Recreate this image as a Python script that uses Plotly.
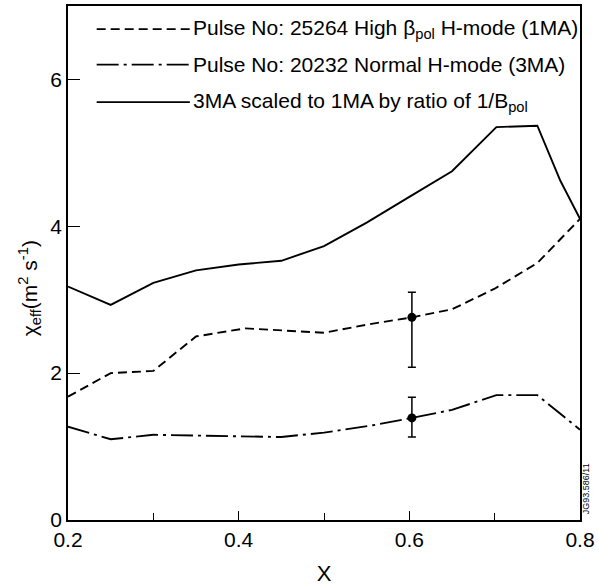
import plotly.graph_objects as go

# ---- data ----
x_highbeta = [0.2, 0.25, 0.3, 0.35, 0.408, 0.45, 0.5, 0.55, 0.603, 0.65, 0.7, 0.75, 0.8]
chi_highbeta = [1.68, 2.0, 2.03, 2.5, 2.61, 2.58, 2.55, 2.66, 2.76, 2.87, 3.15, 3.5, 4.1]

x_normal = [0.2, 0.25, 0.3, 0.35, 0.4, 0.45, 0.5, 0.557, 0.603, 0.65, 0.702, 0.75, 0.8]
chi_normal = [1.27, 1.1, 1.16, 1.15, 1.14, 1.13, 1.19, 1.29, 1.39, 1.5, 1.7, 1.7, 1.23]

x_scaled = [0.2, 0.25, 0.3, 0.35, 0.4, 0.45, 0.5, 0.55, 0.6, 0.65, 0.702, 0.75, 0.777, 0.8]
chi_scaled = [3.18, 2.93, 3.23, 3.4, 3.48, 3.53, 3.73, 4.05, 4.4, 4.75, 5.35, 5.37, 4.62, 4.1]

err_x = [0.603]
err_highbeta_val = [2.76]
err_highbeta_hi = [3.1]
err_highbeta_lo = [2.08]
err_normal_val = [1.39]
err_normal_hi = [1.67]
err_normal_lo = [1.13]

legend_labels = [
    "Pulse No: 25264 High \u03b2<sub>pol</sub> H-mode (1MA)",
    "Pulse No: 20232 Normal H-mode (3MA)",
    "3MA scaled to 1MA by ratio of 1/B<sub>pol</sub>",
]
legend_dashes = ["9px,5px", "22px,5px,3px,5px", "solid"]

x_ticks = [0.2, 0.4, 0.6, 0.8]
x_ticktext = ["0.2", "0.4", "0.6", "0.8"]
y_ticks = [0, 2, 4, 6]

FONT = "Liberation Sans, Arial, sans-serif"
LW = 1.9

fig = go.Figure()

fig.add_trace(go.Scatter(x=x_highbeta, y=chi_highbeta, mode="lines",
                         line=dict(color="black", width=LW, dash=legend_dashes[0]),
                         showlegend=False))
fig.add_trace(go.Scatter(x=x_normal, y=chi_normal, mode="lines",
                         line=dict(color="black", width=LW, dash=legend_dashes[1]),
                         showlegend=False))
fig.add_trace(go.Scatter(x=x_scaled, y=chi_scaled, mode="lines",
                         line=dict(color="black", width=LW, dash=legend_dashes[2]),
                         showlegend=False))

for vals, hi, lo in [(err_highbeta_val, err_highbeta_hi, err_highbeta_lo),
                     (err_normal_val, err_normal_hi, err_normal_lo)]:
    fig.add_trace(go.Scatter(
        x=err_x, y=vals, mode="markers",
        marker=dict(color="black", size=9, symbol="circle"),
        error_y=dict(type="data", symmetric=False,
                     array=[h - v for h, v in zip(hi, vals)],
                     arrayminus=[v - l for v, l in zip(vals, lo)],
                     color="black", thickness=1.5, width=4),
        showlegend=False))

# manual legend (line samples + labels) in paper coordinates
leg_y = [0.955, 0.886, 0.813]
for lab, dash, yy in zip(legend_labels, legend_dashes, leg_y):
    fig.add_shape(type="line", xref="paper", yref="paper",
                  x0=0.056, x1=0.238, y0=yy, y1=yy,
                  line=dict(color="black", width=LW, dash=dash))
    fig.add_annotation(xref="paper", yref="paper", x=0.24, y=yy, text=lab,
                       showarrow=False, xanchor="left", yanchor="middle",
                       font=dict(family=FONT, size=21, color="black"))

# y axis title
fig.add_annotation(xref="paper", yref="paper", x=-0.075, y=0.45,
                   text="\u03c7<sub>eff</sub>(m<sup>2</sup> s<sup>-1</sup>)",
                   textangle=-90, showarrow=False,
                   xanchor="center", yanchor="middle",
                   font=dict(family=FONT, size=21, color="black"))

# figure code
fig.add_annotation(xref="paper", yref="paper", x=1.0, y=0.06,
                   text="JG93.586/11", textangle=-90, showarrow=False,
                   xanchor="left", yanchor="middle", xshift=-1,
                   font=dict(family=FONT, size=9, color="black"))

fig.update_layout(
    width=599, height=586,
    margin=dict(l=68, r=11, t=4, b=58),
    plot_bgcolor="white", paper_bgcolor="white",
    font=dict(family=FONT, size=21, color="black"),
    xaxis=dict(range=[0.2, 0.8], tickvals=x_ticks, ticktext=x_ticktext,
               ticks="inside", ticklen=9, tickwidth=1.2, tickcolor="black",
               ticklabeloverflow="allow",
               minor=dict(dtick=0.1, tick0=0.2, ticks="inside", ticklen=7, tickcolor="black"),
               showline=True, linecolor="black", linewidth=1.5, mirror=True,
               showgrid=False, zeroline=False,
               title=dict(text="X", font=dict(size=22), standoff=16)),
    yaxis=dict(range=[0, 7], tickvals=y_ticks, ticks="inside", ticklen=12,
               tickwidth=1.2, tickcolor="black",
               showline=True, linecolor="black", linewidth=1.5, mirror=True,
               showgrid=False, zeroline=False),
)

fig.write_html("out.html")
